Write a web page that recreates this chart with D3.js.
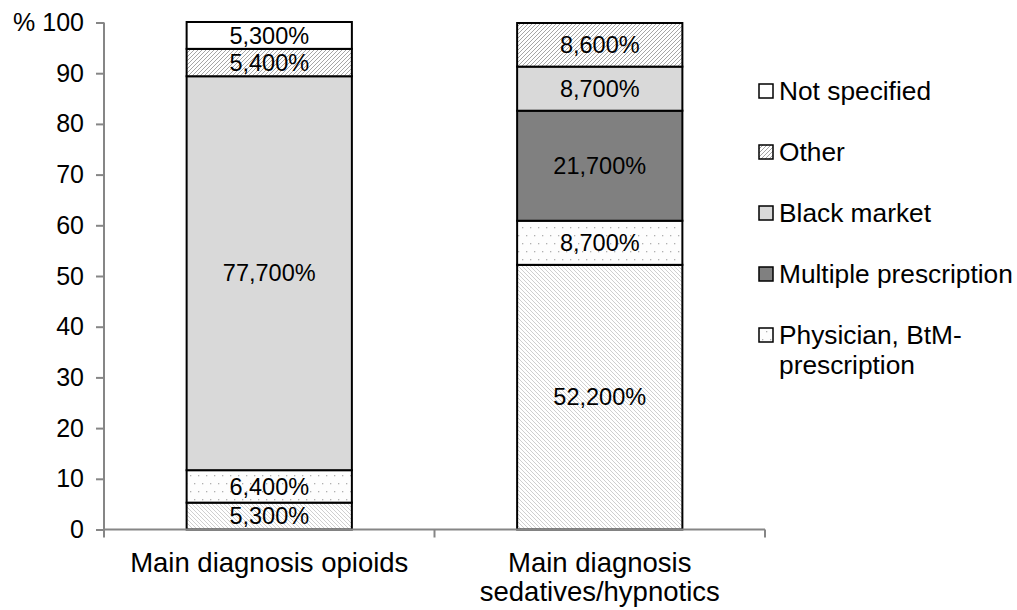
<!DOCTYPE html>
<html><head><meta charset="utf-8">
<script src="https://cdn.jsdelivr.net/npm/d3@7/dist/d3.min.js"></script>
<style>
html,body{margin:0;padding:0;background:#fff;}
svg{display:block;font-family:"Liberation Sans",Arial,sans-serif;}
</style></head>
<body>
<svg id="chart" width="1017" height="610"></svg>
<script>
// ---- data ----
const categories = ["Main diagnosis opioids", "Main diagnosis sedatives/hypnotics"];
const categoryLines = [["Main diagnosis opioids"], ["Main diagnosis", "sedatives/hypnotics"]];
// stack order bottom -> top
const seriesNames = ["(unlabelled)", "Physician, BtM-prescription", "Multiple prescription", "Black market", "Other", "Not specified"];
const unlabelled = [5.3, 52.2];
const physician = [6.4, 8.7];
const multiple = [0, 21.7];
const blackMarket = [77.7, 8.7];
const other = [5.4, 8.6];
const notSpecified = [5.3, 0];
const yTicks = [0, 10, 20, 30, 40, 50, 60, 70, 80, 90, 100];
const yTickLabels = ["0", "10", "20", "30", "40", "50", "60", "70", "80", "90", "% 100"];
const legendOrder = ["Not specified", "Other", "Black market", "Multiple prescription", "Physician, BtM-prescription"];

const seriesValues = [unlabelled, physician, multiple, blackMarket, other, notSpecified];
const table = categories.map((c, i) => {
  const row = {category: c};
  seriesNames.forEach((s, j) => row[s] = seriesValues[j][i]);
  return row;
});

const fills = {
  "(unlabelled)": "url(#hatchLight)",
  "Physician, BtM-prescription": "url(#dots)",
  "Multiple prescription": "#808080",
  "Black market": "#d9d9d9",
  "Other": "url(#hatchOther)",
  "Not specified": "#ffffff"
};

const svg = d3.select("#chart");
const defs = svg.append("defs");
// light "\" hatch
const p1 = defs.append("pattern").attr("id", "hatchLight").attr("patternUnits", "userSpaceOnUse")
  .attr("width", 4).attr("height", 4);
p1.append("rect").attr("width", 4).attr("height", 4).attr("fill", "#fff");
p1.append("path").attr("d", "M-1,-1L5,5M3,-1L5,1M-1,3L1,5").attr("stroke", "#cfcfcf").attr("stroke-width", 1);
// darker "/" hatch
const p2 = defs.append("pattern").attr("id", "hatchOther").attr("patternUnits", "userSpaceOnUse")
  .attr("width", 4).attr("height", 4);
p2.append("rect").attr("width", 4).attr("height", 4).attr("fill", "#fff");
p2.append("path").attr("d", "M-1,5L5,-1M-1,1L1,-1M3,5L5,3").attr("stroke", "#a6a6a6").attr("stroke-width", 1);
// dots
const p3 = defs.append("pattern").attr("id", "dots").attr("patternUnits", "userSpaceOnUse")
  .attr("width", 16).attr("height", 16);
p3.append("rect").attr("width", 16).attr("height", 16).attr("fill", "#fdfdfd");
[[2,3],[10,3],[6,11],[14,11]].forEach(d => p3.append("rect").attr("x", d[0]).attr("y", d[1])
  .attr("width", 1.3).attr("height", 1.3).attr("fill", "#b0b0b0"));

const x = d3.scaleBand().domain(categories).range([104, 765]).paddingInner(0.5).paddingOuter(0.25);
const y = d3.scaleLinear().domain([0, 100]).range([529.5, 22.5]);

const stack = d3.stack().keys(seriesNames)(table);

const fmt = v => d3.format(".3f")(v).replace(".", ",") + "%";

const layers = svg.append("g").selectAll("g").data(stack).join("g")
  .attr("fill", d => fills[d.key]);
layers.selectAll("rect").data(d => d.filter(p => p[1] - p[0] > 0)).join("rect")
  .attr("x", d => x(d.data.category))
  .attr("width", x.bandwidth())
  .attr("y", d => y(d[1]))
  .attr("height", d => y(d[0]) - y(d[1]))
  .attr("stroke", "#000").attr("stroke-width", 2);

// data labels
const labels = svg.append("g").attr("font-size", 23.5).attr("fill", "#000").attr("text-anchor", "middle");
stack.forEach(s => {
  s.forEach(p => {
    const v = p[1] - p[0];
    if (v <= 0) return;
    labels.append("text")
      .attr("x", x(p.data.category) + x.bandwidth() / 2)
      .attr("y", y((p[0] + p[1]) / 2))
      .attr("dy", "0.35em")
      .text(fmt(p.data[s.key]));
  });
});

// y axis
const yAxis = d3.axisLeft(y).tickValues(yTicks).tickSize(8).tickPadding(12)
  .tickFormat((d, i) => yTickLabels[i]);
const gy = svg.append("g").attr("transform", "translate(104,0)").call(yAxis);
gy.select(".domain").attr("stroke", "#868686").attr("stroke-width", 2).attr("d", "M0,22.5V529.5");
gy.selectAll(".tick line").attr("stroke", "#868686").attr("stroke-width", 2);
gy.selectAll(".tick text").attr("font-size", 25).attr("fill", "#000")
  .attr("font-family", '"Liberation Sans",Arial,sans-serif');

// x axis
const gx = svg.append("g").attr("transform", "translate(0,529.5)");
gx.append("line").attr("x1", 104).attr("x2", 765).attr("stroke", "#868686").attr("stroke-width", 2);
const bounds = [x.range()[0], (x(categories[0]) + x.bandwidth() + x(categories[1])) / 2, x.range()[1]];
bounds.forEach(b => gx.append("line").attr("x1", b).attr("x2", b).attr("y1", 0).attr("y2", 8)
  .attr("stroke", "#868686").attr("stroke-width", 2));
categories.forEach((c, i) => {
  const t = gx.append("text").attr("text-anchor", "middle").attr("font-size", 27.5).attr("fill", "#000");
  categoryLines[i].forEach((line, k) => t.append("tspan")
    .attr("x", x(c) + x.bandwidth() / 2).attr("y", 42 + k * 29.5).text(line));
});

// legend
const lg = svg.append("g");
legendOrder.forEach((name, i) => {
  const cy = 91 + i * 61;
  const g = lg.append("g");
  g.append("rect").attr("x", 759).attr("y", cy - 7).attr("width", 14).attr("height", 14)
    .attr("fill", fills[name]).attr("stroke", "#000").attr("stroke-width", 1.5);
  const parts = name === "Physician, BtM-prescription" ? ["Physician, BtM-", "prescription"] : [name];
  const t = g.append("text").attr("font-size", 26.3).attr("fill", "#000");
  parts.forEach((p, k) => t.append("tspan").attr("x", 779).attr("y", cy + 9 + k * 30).text(p));
});
</script>
</body></html>
